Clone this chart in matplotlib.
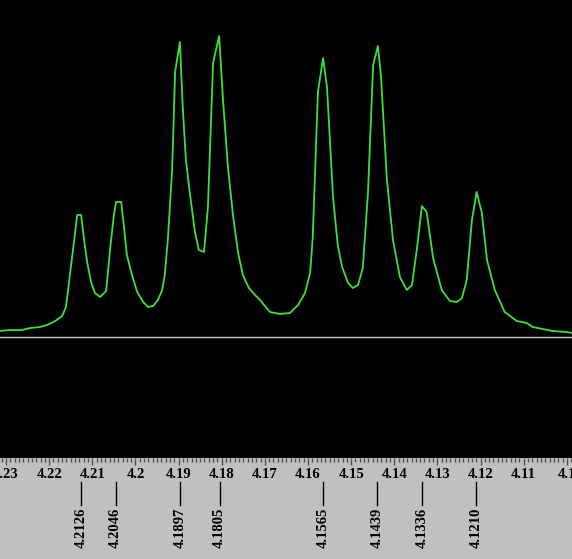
import matplotlib
matplotlib.use('Agg')
import matplotlib.pyplot as plt
from matplotlib.ticker import MultipleLocator, FuncFormatter

# chemical shift (ppm) and intensity (arbitrary units)
ppm = [4.2314, 4.2291, 4.2263, 4.2244, 4.2221, 4.2205, 4.2186, 4.2170, 4.2161, 4.2152,
       4.2142, 4.2135, 4.2126, 4.2119, 4.2112, 4.2103, 4.2094, 4.2082, 4.2068, 4.2059,
       4.2050, 4.2045, 4.2033, 4.2027, 4.2020, 4.2008, 4.1996, 4.1982, 4.1971, 4.1959,
       4.1948, 4.1938, 4.1932, 4.1925, 4.1915, 4.1908, 4.1897, 4.1890, 4.1883, 4.1874,
       4.1862, 4.1853, 4.1841, 4.1832, 4.1820, 4.1806, 4.1797, 4.1786, 4.1774, 4.1762,
       4.1751, 4.1737, 4.1723, 4.1711, 4.1700, 4.1688, 4.1665, 4.1642, 4.1623, 4.1607,
       4.1595, 4.1589, 4.1577, 4.1565, 4.1556, 4.1542, 4.1531, 4.1521, 4.1507, 4.1496,
       4.1484, 4.1473, 4.1461, 4.1449, 4.1438, 4.1431, 4.1417, 4.1403, 4.1387, 4.1371,
       4.1359, 4.1347, 4.1336, 4.1325, 4.1310, 4.1290, 4.1271, 4.1255, 4.1243, 4.1232,
       4.1220, 4.1209, 4.1197, 4.1185, 4.1167, 4.1144, 4.1116, 4.1093, 4.1079, 4.1056,
       4.1033, 4.1000, 4.0988]
intensity = [6, 7, 7, 9, 10, 12, 16, 21, 30, 62,
             97, 122, 122, 97, 75, 55, 44, 40, 46, 87,
             122, 135, 135, 112, 82, 62, 45, 35, 30, 31,
             37, 47, 62, 97, 167, 265, 295, 227, 177, 144,
             105, 87, 85, 130, 274, 301, 237, 172, 122, 84,
             62, 49, 42, 37, 31, 25, 23, 24, 32, 44,
             64, 100, 245, 279, 250, 140, 92, 70, 54, 49,
             52, 69, 144, 272, 291, 262, 157, 97, 60, 47,
             52, 90, 131, 125, 79, 47, 36, 35, 39, 57,
             117, 145, 124, 77, 47, 25, 16, 14, 10, 8,
             6, 5, 4]

peak_labels = ['4.2126', '4.2046', '4.1897', '4.1805', '4.1565', '4.1439', '4.1336', '4.1210']

W, H = 572, 559
fig = plt.figure(figsize=(W / 100, H / 100), dpi=100)
fig.patch.set_facecolor('#c0c0c0')

x_left, x_right = 4.2314, 4.0988
font = {'family': 'Liberation Serif', 'weight': 'bold', 'size': 10.5}

# spectrum panel
ax = fig.add_axes([0, 101 / H, 1, 458 / H])
ax.set_facecolor('black')
ax.set_zorder(2)
ax.plot(ppm, intensity, color='#3ce03c', lw=1.3)
ax.axhline(0, color='#c8c8c8', lw=1.0)
ax.set_xlim(x_left, x_right)
ax.set_ylim(-121, 337)
ax.set_yticks([])
for s in ax.spines.values():
    s.set_visible(False)
ax.xaxis.set_major_locator(MultipleLocator(0.01))
ax.xaxis.set_minor_locator(MultipleLocator(0.001))
ax.xaxis.set_major_formatter(FuncFormatter(lambda v, p: f'{round(v, 2):g}'))
ax.tick_params(axis='x', which='major', direction='out', length=5, width=1,
               color='#505050', pad=2)
ax.tick_params(axis='x', which='minor', direction='out', length=3, width=1,
               color='#505050')
for lab in ax.get_xticklabels():
    lab.set_fontproperties(font)

# peak label strip
lab_ax = fig.add_axes([0, 0, 1, 101 / H])
lab_ax.set_facecolor('#c0c0c0')
lab_ax.set_xlim(x_left, x_right)
lab_ax.set_ylim(101, 0)
lab_ax.axis('off')
for lbl in peak_labels:
    v = float(lbl)
    lab_ax.plot([v, v], [24, 47], color='black', lw=1)
    lab_ax.text(v, 50, lbl, rotation=90, ha='center', va='top', fontdict=font)

fig.savefig('out.png', dpi=100, facecolor=fig.get_facecolor())
